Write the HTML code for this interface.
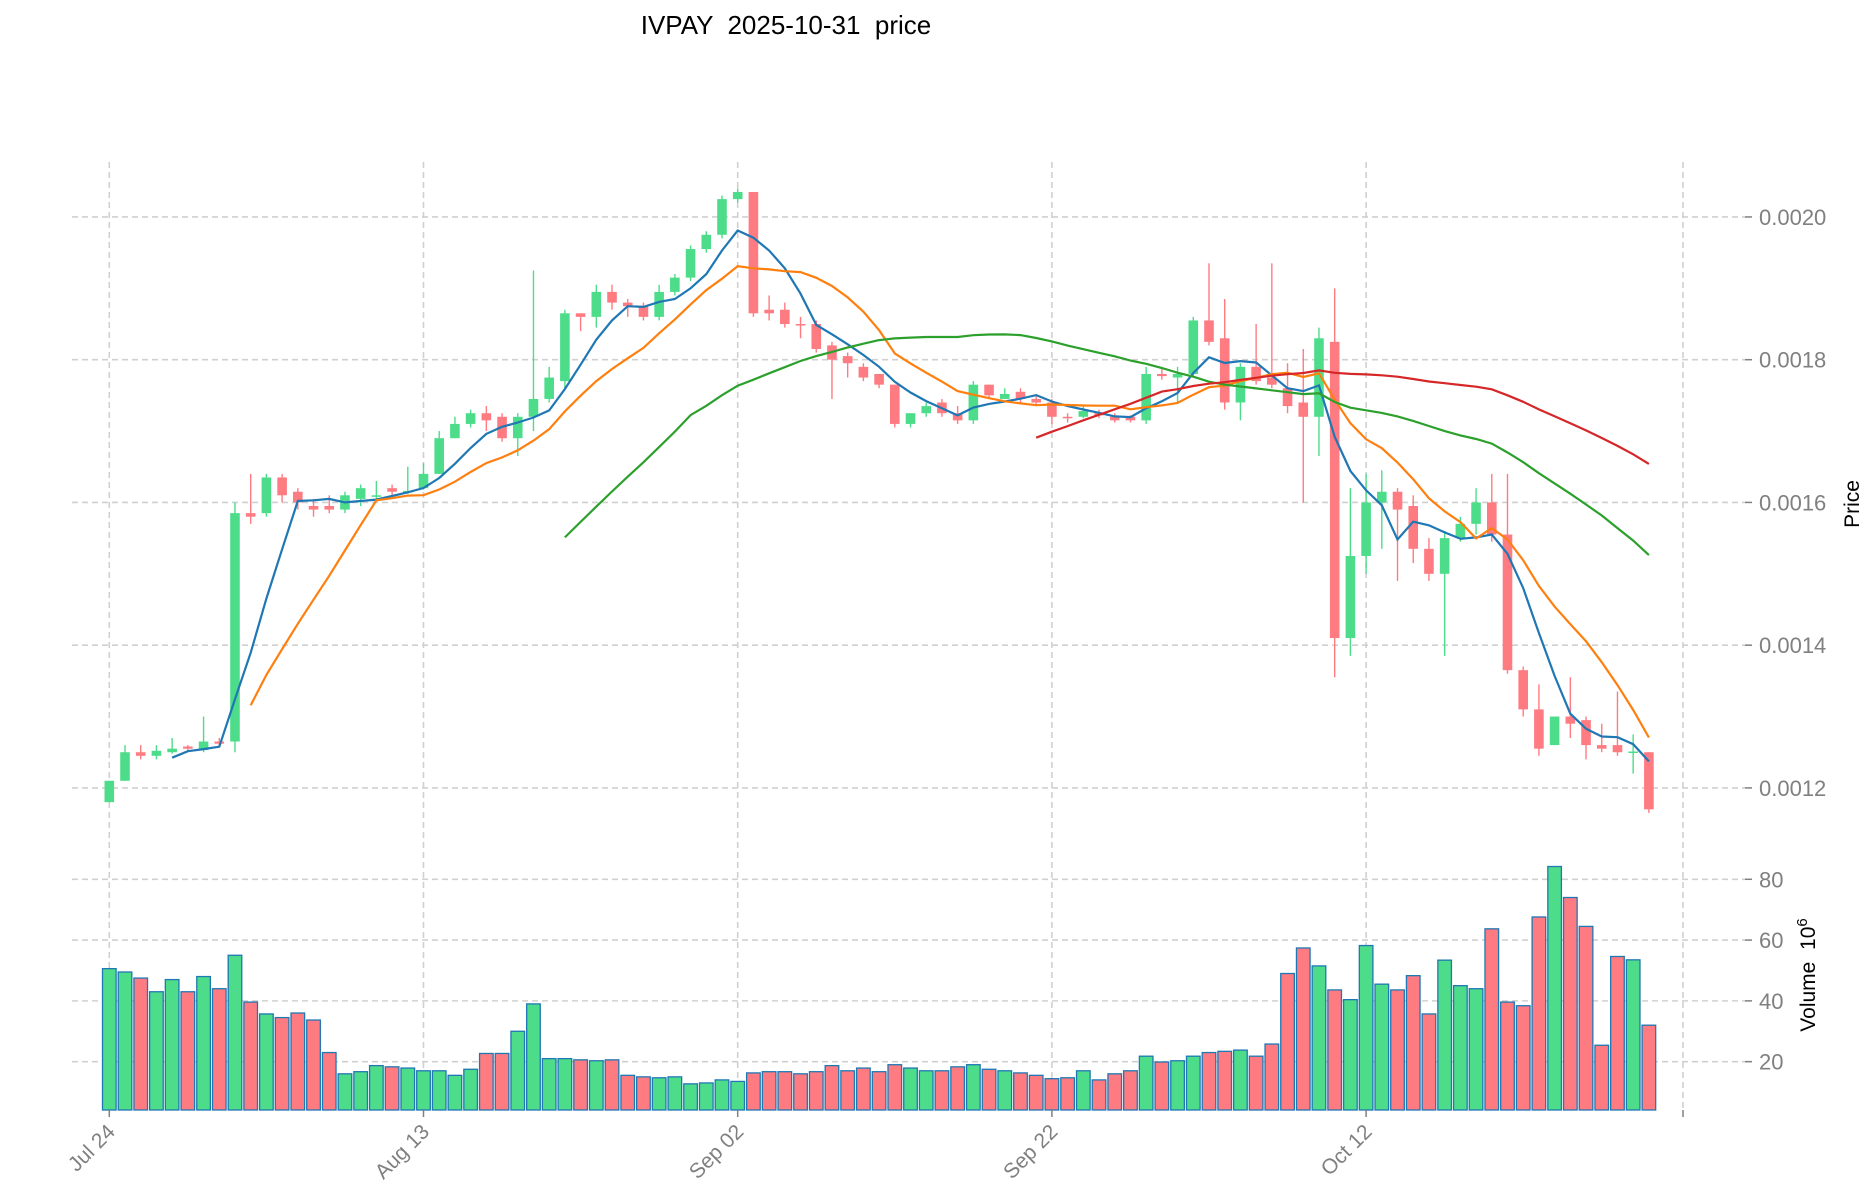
<!DOCTYPE html>
<html><head><meta charset="utf-8"><style>
html,body{margin:0;padding:0;background:#fff;}
svg{display:block;font-family:"Liberation Sans","DejaVu Sans",sans-serif;}
</style></head><body>
<svg id="chart" width="1873" height="1202" viewBox="0 0 1873 1202" xmlns="http://www.w3.org/2000/svg">
<text x="786" y="34" font-size="26" text-anchor="middle" fill="#000" style="white-space:pre" xml:space="preserve">IVPAY  2025-10-31  price</text>
<text transform="translate(1859,504) rotate(-90)" font-size="21" text-anchor="middle" fill="#000">Price</text>
<text transform="translate(1815,975) rotate(-90)" font-size="21" text-anchor="middle" fill="#000" style="white-space:pre" xml:space="preserve">Volume  10<tspan dy="-8" font-size="15">6</tspan></text>
<g id="grid"></g><g id="vol"></g><g id="candles"></g><g id="ma"></g><g id="axes"></g>
</svg>
<script>
const opens=[.00118,.00121,.00125,.001245,.00125,.001258,.001253,.001265,.001265,.001585,.001585,.001635,.001615,.001595,.001595,.00159,.001605,.00161,.00162,.001615,.00162,.00164,.00169,.00171,.001725,.00172,.00169,.00172,.001745,.00177,.001865,.00186,.001895,.00188,.001875,.00186,.001895,.001915,.001955,.001975,.002025,.002035,.00187,.00187,.00185,.00185,.00182,.001805,.00179,.00178,.001765,.00171,.001725,.00174,.001725,.001715,.001765,.001745,.001755,.001745,.00174,.00172,.00172,.001725,.00172,.00172,.001715,.00178,.001775,.00178,.001855,.00183,.00174,.00179,.001775,.00176,.00174,.00172,.001825,.00141,.001525,.0016,.001615,.001595,.001535,.0015,.00155,.00157,.0016,.001555,.001365,.00131,.00126,.0013,.001295,.00126,.00126,.00125,.00125];
const closes=[.00121,.00125,.001245,.001252,.001255,.001255,.001265,.001262,.001585,.00158,.001635,.00161,.0016,.00159,.00159,.00161,.00162,.00161,.001615,.001616,.00164,.00169,.00171,.001725,.001715,.00169,.00172,.001745,.001775,.001865,.00186,.001895,.00188,.001875,.00186,.001895,.001915,.001955,.001975,.002025,.002035,.001865,.001865,.00185,.001848,.001815,.0018,.001795,.001775,.001765,.00171,.001725,.001735,.001725,.001715,.001765,.00175,.001752,.001745,.00174,.00172,.001718,.001728,.001722,.001715,.001715,.00178,.001777,.00178,.001855,.001825,.00174,.00179,.00177,.001765,.001735,.00172,.00183,.00141,.001525,.0016,.001615,.00159,.001535,.0015,.00155,.00157,.0016,.001555,.001365,.00131,.001255,.0013,.00129,.00126,.001255,.00125,.001251,.00117];
const highs=[.00121,.00126,.00126,.00126,.00127,.00126,.0013,.00127,.0016,.00164,.00164,.00164,.00162,.001605,.00161,.001615,.001625,.00163,.001625,.00165,.001655,.0017,.00172,.00173,.001735,.001725,.001725,.001925,.00179,.00187,.001865,.001905,.001905,.001885,.00188,.001905,.00192,.00196,.00198,.00203,.00204,.002035,.00189,.00188,.00186,.001855,.001825,.00181,.001795,.00178,.001765,.001725,.00174,.001745,.001735,.00177,.001765,.00176,.00176,.00175,.001745,.001725,.001735,.00173,.001725,.001722,.00179,.00179,.00179,.00186,.001935,.001885,.001795,.00185,.001935,.001795,.001815,.001845,.0019,.00162,.00164,.001645,.00162,.00161,.00155,.00156,.00158,.00162,.00164,.00164,.00137,.001345,.0013,.001355,.0013,.00129,.001335,.001275,.00125];
const lows=[.00118,.00121,.00124,.00124,.001248,.001252,.00125,.00126,.00125,.00157,.00158,.0016,.00159,.00158,.001585,.001585,.001595,.001605,.00161,.001612,.001618,.00164,.00169,.001705,.0017,.001685,.001665,.0017,.00174,.00176,.00184,.001845,.00187,.00186,.001855,.001855,.00189,.00191,.00195,.00197,.00202,.00186,.001855,.001845,.00183,.00181,.001745,.001775,.00177,.00176,.001705,.001705,.00172,.00172,.00171,.00171,.001745,.001745,.00174,.001735,.00171,.001712,.001718,.001718,.001712,.001712,.00171,.001772,.00174,.001775,.00182,.00173,.001715,.001765,.00176,.001725,.0016,.001665,.001355,.001385,.0015,.001535,.00149,.001515,.00149,.001385,.001545,.001555,.001545,.00136,.0013,.001245,.00126,.00127,.00124,.00125,.001245,.00122,.001165];
const volumes=[50.6,49.5,47.5,43,47,43,48,44,55,39.6,35.7,34.5,36,33.7,23,16,16.7,18.7,18.3,17.9,17,17,15.5,17.5,22.7,22.7,30,39,21,21,20.6,20.3,20.6,15.5,15,14.7,15,12.7,13,14,13.5,16.3,16.7,16.7,16,16.7,18.7,17,17.9,16.7,19,17.9,17,17,18.3,19,17.5,17,16.3,15.5,14.4,14.7,17,14,16,17,21.8,19.9,20.3,21.8,23,23.4,23.8,21.8,25.8,49,57.4,51.5,43.6,40.4,58.2,45.5,43.6,48.3,35.7,53.4,45,44,63.7,39.6,38.4,67.6,84.2,74,64.5,25.4,54.6,53.5,32];
const dateLabels=["Jul 24","Aug 13","Sep 02","Sep 22","Oct 12"];
const dateIdx=[0,20,40,60,80];
const priceTicks=[0.0012,0.0014,0.0016,0.0018,0.0020];
const priceTickLabels=["0.0012","0.0014","0.0016","0.0018","0.0020"];
const volTicks=[20,40,60,80];
const maWindows=[5,10,30,60];
const maColors=["#1f77b4","#ff7f0e","#2ca02c","#d62728"];

const NS="http://www.w3.org/2000/svg";
const X0=109.3, DX=15.71, XL=72, XR=1683, TX=1745;
const PT=162, PB=855, PMAX=0.002077, PMIN=0.001106;
const VT=858, VB=1110, VMAX=87, VMIN=4.1;
const xs=i=>X0+i*DX;
const yp=p=>PT+(PMAX-p)/(PMAX-PMIN)*(PB-PT);
const yv=v=>VT+(VMAX-v)/(VMAX-VMIN)*(VB-VT);
function mk(tag,attrs,parent){const e=document.createElementNS(NS,tag);for(const k in attrs)e.setAttribute(k,attrs[k]);parent.appendChild(e);return e;}
const G=id=>document.getElementById(id);
const grid=G('grid'),vol=G('vol'),cg=G('candles'),mg=G('ma'),ax=G('axes');
const gridStyle={stroke:"#d0d0d0","stroke-width":1.6,"stroke-dasharray":"6,4"};
priceTicks.forEach((p,k)=>{
  const y=yp(p);
  const l=mk('line',Object.assign({x1:XL,x2:TX,y1:y,y2:y},gridStyle),grid);
  
  
  const t=mk('line',{x1:TX,x2:TX+7,y1:y,y2:y,stroke:"#808080","stroke-width":1.5},ax);
  
  
  const tx=mk('text',{x:TX+14,y:y+8,"font-size":22,fill:"#808080"},ax);
  tx.textContent=priceTickLabels[k];
  
  
});
volTicks.forEach(v=>{
  const y=yv(v);
  const l=mk('line',Object.assign({x1:XL,x2:TX,y1:y,y2:y},gridStyle),grid);
  
  
  const t=mk('line',{x1:TX,x2:TX+7,y1:y,y2:y,stroke:"#808080","stroke-width":1.5},ax);
  
  
  const tx=mk('text',{x:TX+14,y:y+8,"font-size":22,fill:"#808080"},ax);
  tx.textContent=String(v);
  
  
});
dateIdx.forEach((d,k)=>{
  const x=xs(d);
  const l=mk('line',Object.assign({x1:x,x2:x,y1:PT,y2:VB},gridStyle),grid);
  
  
  const t=mk('line',{x1:x,x2:x,y1:VB,y2:VB+7,stroke:"#808080","stroke-width":1.5},ax);
  
  
  const tx=mk('text',{transform:`translate(${x+7},${VB+23}) rotate(-45)`,"font-size":21,fill:"#808080","text-anchor":"end"},ax);
  tx.textContent=dateLabels[k];
  
  
});
{const l=mk('line',Object.assign({x1:XR,x2:XR,y1:PT,y2:VB},gridStyle),grid);


const t=mk('line',{x1:XR,x2:XR,y1:VB,y2:VB+7,stroke:"#808080","stroke-width":1.5},ax);

}
const UP="#4ddd8a", DN="#ff7b82";
volumes.forEach((v,i)=>{
  const up=closes[i]>=opens[i];
  const y=yv(v);
  const r=mk('rect',{x:xs(i)-6.8,y:y,width:13.6,height:VB-y,fill:up?UP:DN,stroke:"#1f77b4","stroke-width":1.3},vol);
  
  
});
opens.forEach((o,i)=>{
  const c=closes[i],up=c>=o,col=up?UP:DN,x=xs(i);
  const w=mk('line',{x1:x,x2:x,y1:yp(highs[i]),y2:yp(lows[i]),stroke:col,"stroke-width":1.4},cg);
  
  
  const top=yp(Math.max(o,c)),bot=yp(Math.min(o,c));
  const b=mk('rect',{x:x-4.8,y:top,width:9.6,height:Math.max(bot-top,1.5),fill:col},cg);
  
  
});
maWindows.forEach((n,k)=>{
  const pts=[];
  for(let i=n-1;i<closes.length;i++){let s=0;for(let j=i-n+1;j<=i;j++)s+=closes[j];pts.push(xs(i).toFixed(1)+","+yp(s/n).toFixed(1));}
  const p=mk('polyline',{points:pts.join(" "),fill:"none",stroke:maColors[k],"stroke-width":2.2},mg);
  
  
});
</script>
</body></html>
